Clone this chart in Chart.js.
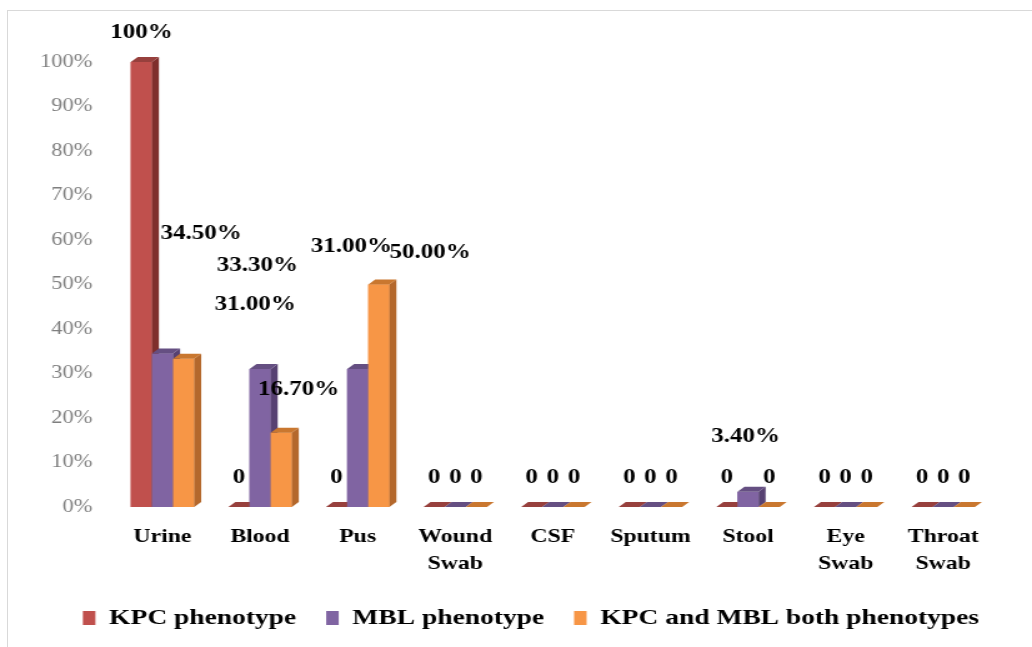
<!DOCTYPE html>
<html lang="en">
<head>
    <meta charset="UTF-8">
    <title>KPC and MBL phenotypes by specimen</title>
    <script src="https://cdn.jsdelivr.net/npm/chart.js"></script>
    <style>
        body {
            margin: 0;
            background: #fff;
        }
        .frame {
            position: absolute;
            left: 7px;
            top: 10px;
            width: 1030px;
            height: 640px;
            border: 1px solid #d9d9d9;
        }
        /* the source figure is stretched sideways, so the canvas is too */
        canvas {
            position: absolute;
            left: 0;
            top: 0;
            transform: scaleX(1.2494);
            transform-origin: 0 0;
        }
    </style>
</head>
<body>
    <div class="frame"></div>
    <canvas id="specimenChart" width="826" height="647"></canvas>

    <script>
        // Specimen categories and percentages
        const specimens = ['Urine', 'Blood', 'Pus', ['Wound', 'Swab'], 'CSF', 'Sputum', 'Stool', ['Eye', 'Swab'], ['Throat', 'Swab']];
        const kpcValues = [100, 0, 0, 0, 0, 0, 0, 0, 0];
        const mblValues = [34.5, 31.0, 31.0, 0, 0, 0, 3.4, 0, 0];
        const bothValues = [33.3, 16.7, 50.0, 0, 0, 0, 0, 0, 0];
        const seriesNames = ['KPC phenotype', 'MBL phenotype', 'KPC and MBL both phenotypes'];
        const yTicks = [0, 10, 20, 30, 40, 50, 60, 70, 80, 90, 100];

        const faceColors = ['#C0504D', '#8064A2', '#F79646'];
        const sideColors = ['#7f2e2c', '#574172', '#b4682c'];
        const topColors = ['#97403d', '#654f82', '#c9772f'];

        // label shifts as in the original figure, [dx, dy] per series-category
        const labelNudge = {
            '1-0': [31, -91], '2-0': [59, -64],
            '1-1': [-4, -35], '2-1': [14, -14],
            '1-2': [-5, -93], '2-2': [41, -3],
            '1-6': [-2, -26]
        };

        const serif = '"Liberation Serif", "Times New Roman", serif';

        function fmt(v) {
            if (v === 0) return '0';
            if (v === 100) return '100%';
            return v.toFixed(2) + '%';
        }

        // draws bars with a small 3D side and top, in the order Excel would
        const bars3d = {
            id: 'bars3d',
            beforeDraw(chart) {
                // legend in the source sits a bit right of the canvas centre
                if (!chart.legend._shifted) {
                    chart.legend.left += 28;
                    chart.legend.right += 28;
                    chart.legend._shifted = true;
                }
            },
            afterDatasetsDraw(chart) {
                const ctx = chart.ctx;
                const d = 5.6, dy = 5;
                const metas = chart.data.datasets.map((ds, i) => chart.getDatasetMeta(i));
                ctx.save();
                for (let c = 0; c < specimens.length; c++) {
                    metas.forEach((meta, s) => {
                        const bar = meta.data[c];
                        const w = bar.width;
                        const l = bar.x - w / 2, r = bar.x + w / 2;
                        const top = bar.y, base = bar.base;
                        ctx.fillStyle = faceColors[s];
                        ctx.fillRect(l, top, w, base - top);
                        ctx.fillStyle = sideColors[s];
                        ctx.beginPath();
                        ctx.moveTo(r, top);
                        ctx.lineTo(r + d, top - dy);
                        ctx.lineTo(r + d, base - dy);
                        ctx.lineTo(r, base);
                        ctx.closePath();
                        ctx.fill();
                        ctx.fillStyle = topColors[s];
                        ctx.beginPath();
                        ctx.moveTo(l, top);
                        ctx.lineTo(l + d, top - dy);
                        ctx.lineTo(r + d, top - dy);
                        ctx.lineTo(r, top);
                        ctx.closePath();
                        ctx.fill();
                    });
                }
                // data labels
                ctx.fillStyle = '#000';
                ctx.font = 'bold 20px ' + serif;
                ctx.textAlign = 'center';
                ctx.textBaseline = 'middle';
                metas.forEach((meta, s) => {
                    const vals = chart.data.datasets[s].data;
                    meta.data.forEach((bar, c) => {
                        const n = labelNudge[s + '-' + c] || [0, 0];
                        ctx.fillText(fmt(vals[c]), bar.x + n[0], bar.y - 29 + n[1]);
                    });
                });
                ctx.restore();
            }
        };

        const ctx = document.getElementById('specimenChart').getContext('2d');
        new Chart(ctx, {
            type: 'bar',
            data: {
                labels: specimens,
                datasets: [kpcValues, mblValues, bothValues].map((vals, i) => ({
                    label: seriesNames[i],
                    data: vals,
                    backgroundColor: faceColors[i],
                    borderWidth: 0,
                    categoryPercentage: 0.65,
                    barPercentage: 1.0
                }))
            },
            options: {
                responsive: false,
                animation: false,
                layout: {
                    padding: { left: 0, right: 32, top: 62, bottom: 8 }
                },
                plugins: {
                    tooltip: { enabled: false },
                    legend: {
                        position: 'bottom',
                        labels: {
                            color: '#000',
                            font: { family: serif, size: 22, weight: 'bold' },
                            boxWidth: 10,
                            boxHeight: 14,
                            padding: 24
                        }
                    }
                },
                scales: {
                    x: {
                        grid: { display: false },
                        border: { display: false },
                        afterFit: s => { s.height = 76; },
                        ticks: {
                            color: '#000',
                            font: { family: serif, size: 19, weight: 'bold', lineHeight: 1.4 },
                            padding: 9,
                            maxRotation: 0,
                            autoSkip: false
                        }
                    },
                    y: {
                        min: 0,
                        max: 100,
                        afterBuildTicks: axis => { axis.ticks = yTicks.map(v => ({ value: v })); },
                        afterFit: s => { s.width = 91; },
                        grid: { display: false },
                        border: { display: false },
                        ticks: {
                            color: '#7f7f7f',
                            font: { family: serif, size: 18 },
                            padding: 9,
                            callback: v => v + '%'
                        }
                    }
                }
            },
            plugins: [bars3d]
        });
    </script>
</body>
</html>
